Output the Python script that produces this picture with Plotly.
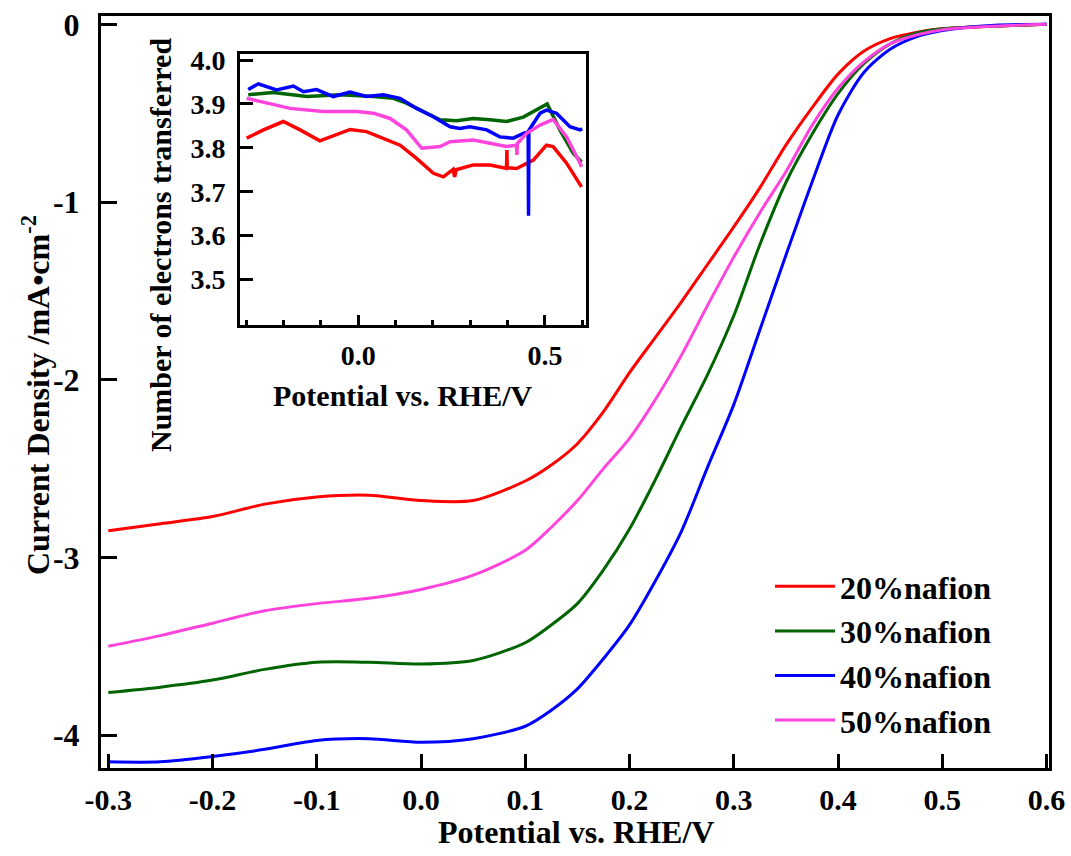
import plotly.graph_objects as go

# ---------------- main LSV data ----------------
potential_main = [-0.30, -0.25, -0.20, -0.15, -0.10, -0.05, 0.00, 0.05, 0.10, 0.125, 0.15, 0.175, 0.20,
                  0.225, 0.25, 0.275, 0.30, 0.325, 0.35, 0.375, 0.40, 0.425, 0.45, 0.475, 0.50, 0.55, 0.60]
j_20 = [-2.85, -2.81, -2.77, -2.70, -2.66, -2.65, -2.68, -2.68, -2.57, -2.48, -2.36, -2.18, -1.96,
        -1.76, -1.56, -1.35, -1.14, -0.92, -0.68, -0.47, -0.28, -0.15, -0.08, -0.045, -0.025, -0.01, 0.0]
j_30 = [-3.76, -3.73, -3.69, -3.63, -3.59, -3.59, -3.60, -3.58, -3.48, -3.38, -3.26, -3.07, -2.84,
        -2.56, -2.26, -1.97, -1.64, -1.24, -0.89, -0.62, -0.39, -0.22, -0.11, -0.05, -0.025, -0.01, 0.0]
j_40 = [-4.15, -4.15, -4.12, -4.08, -4.03, -4.02, -4.04, -4.02, -3.95, -3.86, -3.74, -3.57, -3.38,
        -3.13, -2.85, -2.49, -2.14, -1.72, -1.30, -0.89, -0.51, -0.27, -0.14, -0.07, -0.035, -0.005, 0.0]
j_50 = [-3.50, -3.44, -3.37, -3.30, -3.26, -3.23, -3.18, -3.10, -2.96, -2.83, -2.68, -2.50, -2.33,
        -2.11, -1.86, -1.58, -1.31, -1.06, -0.83, -0.57, -0.36, -0.21, -0.11, -0.06, -0.03, -0.01, 0.0]

# ---------------- inset: electron transfer number ----------------
x_n20 = [-0.299, -0.254, -0.201, -0.156, -0.103, -0.067, -0.022, 0.022, 0.067, 0.112, 0.156, 0.201, 0.228,
         0.254, 0.258, 0.262, 0.308, 0.353, 0.397, 0.398, 0.399, 0.424, 0.469, 0.504, 0.522, 0.558, 0.576, 0.598]
n_20 = [3.822, 3.841, 3.860, 3.841, 3.816, 3.827, 3.842, 3.837, 3.822, 3.806, 3.776, 3.742, 3.734,
        3.751, 3.734, 3.750, 3.761, 3.761, 3.753, 3.795, 3.755, 3.753, 3.772, 3.806, 3.803, 3.765, 3.742, 3.711]
x_n30 = [-0.295, -0.228, -0.138, -0.049, 0.040, 0.094, 0.129, 0.174, 0.219, 0.263, 0.308, 0.353, 0.397,
         0.442, 0.487, 0.506, 0.540, 0.576, 0.598]
n_30 = [3.921, 3.926, 3.917, 3.921, 3.917, 3.913, 3.902, 3.883, 3.864, 3.862, 3.867, 3.864, 3.860,
        3.870, 3.890, 3.900, 3.841, 3.787, 3.768]
x_n40 = [-0.295, -0.268, -0.219, -0.174, -0.147, -0.112, -0.067, -0.022, 0.022, 0.067, 0.112, 0.156, 0.201,
         0.246, 0.272, 0.299, 0.344, 0.379, 0.415, 0.442, 0.455, 0.456, 0.457, 0.487, 0.504, 0.531, 0.567,
         0.594, 0.600]
n_40 = [3.933, 3.946, 3.932, 3.941, 3.928, 3.933, 3.917, 3.927, 3.917, 3.921, 3.913, 3.890, 3.871,
        3.848, 3.844, 3.848, 3.841, 3.825, 3.822, 3.833, 3.836, 3.645, 3.840, 3.879, 3.886, 3.879, 3.848,
        3.841, 3.843]
x_n50 = [-0.299, -0.228, -0.183, -0.094, -0.004, 0.040, 0.085, 0.129, 0.170, 0.219, 0.246, 0.308, 0.353,
         0.397, 0.424, 0.425, 0.426, 0.451, 0.487, 0.522, 0.558, 0.594, 0.598]
n_50 = [3.913, 3.898, 3.890, 3.883, 3.883, 3.879, 3.867, 3.841, 3.799, 3.803, 3.814, 3.818, 3.810,
        3.803, 3.806, 3.784, 3.810, 3.833, 3.852, 3.865, 3.825, 3.765, 3.757]

names = ["20%nafion", "30%nafion", "40%nafion", "50%nafion"]
colors = ["#FF0000", "#006400", "#0000FF", "#FF44DD"]

main_x_ticks = [-0.3, -0.2, -0.1, 0.0, 0.1, 0.2, 0.3, 0.4, 0.5, 0.6]
main_x_text = ["-0.3", "-0.2", "-0.1", "0.0", "0.1", "0.2", "0.3", "0.4", "0.5", "0.6"]
main_y_ticks = [0, -1, -2, -3, -4]
main_y_text = ["0", "-1", "-2", "-3", "-4"]
inset_x_ticks = [0.0, 0.5]
inset_x_text = ["0.0", "0.5"]
inset_x_minor = [-0.3, -0.2, -0.1, 0.1, 0.2, 0.3, 0.4, 0.6]
inset_y_ticks = [3.5, 3.6, 3.7, 3.8, 3.9, 4.0]
inset_y_text = ["3.5", "3.6", "3.7", "3.8", "3.9", "4.0"]

FONT = "Liberation Serif"
W, H = 1071, 856
ML, MR, MT, MB = 101, 22, 16, 88
PW, PH = W - ML - MR, H - MT - MB


def px_to_paper(px, py):
    """window pixel -> paper coordinates"""
    return (px - ML) / PW, (H - MB - py) / PH


fig = go.Figure()

for xs, ys, nm, c in zip([potential_main] * 4, [j_20, j_30, j_40, j_50], names, colors):
    fig.add_trace(go.Scatter(x=xs, y=ys, mode="lines", name=nm,
                             line=dict(color=c, width=3, shape="spline", smoothing=0.8),
                             xaxis="x", yaxis="y"))

for xs, ys, nm, c in zip([x_n20, x_n30, x_n40, x_n50], [n_20, n_30, n_40, n_50], names, colors):
    fig.add_trace(go.Scatter(x=xs, y=ys, mode="lines", name=nm, showlegend=False,
                             line=dict(color=c, width=3.5),
                             xaxis="x2", yaxis="y2"))

ix0, iy0 = px_to_paper(240, 325)
ix1, iy1 = px_to_paper(586, 54)

axis_common = dict(showgrid=False, zeroline=False, showline=True, linecolor="black",
                   linewidth=3, mirror=True, ticks="inside", tickcolor="black", tickwidth=3,
                   ticklabeloverflow="allow")

fig.update_layout(
    width=W, height=H,
    margin=dict(l=ML, r=MR, t=MT, b=MB, autoexpand=False),
    paper_bgcolor="white", plot_bgcolor="white",
    font=dict(family=FONT, size=32, color="black", weight="bold"),
    xaxis=dict(domain=[0, 1], range=[-0.307, 0.6024], tickmode="array",
               tickvals=main_x_ticks, ticktext=main_x_text, ticklen=14,
               tickfont=dict(size=30), ticklabelstandoff=3,
               **axis_common),
    yaxis=dict(domain=[0, 1], range=[-4.185, 0.047], tickmode="array",
               tickvals=main_y_ticks, ticktext=main_y_text, ticklen=16,
               tickfont=dict(size=32), ticklabelstandoff=12,
               **axis_common),
    xaxis2=dict(domain=[ix0, ix1], anchor="y2", range=[-0.317, 0.610], tickmode="array",
                tickvals=inset_x_ticks, ticktext=inset_x_text, ticklen=10,
                tickfont=dict(size=28), ticklabelstandoff=3,
                minor=dict(tickmode="array", tickvals=inset_x_minor, ticks="inside",
                           ticklen=5, tickwidth=3, tickcolor="black", showgrid=False),
                **axis_common),
    yaxis2=dict(domain=[iy0, iy1], anchor="x2", range=[3.396, 4.014], tickmode="array",
                tickvals=inset_y_ticks, ticktext=inset_y_text, ticklen=13,
                tickfont=dict(size=28), ticklabelstandoff=6,
                **axis_common),
    legend=dict(x=px_to_paper(770, 0)[0], y=px_to_paper(0, 559)[1], xanchor="left", yanchor="top",
                bgcolor="rgba(0,0,0,0)", borderwidth=0, font=dict(size=32),
                itemwidth=60, tracegroupgap=0),
    showlegend=True,
)

# main axis titles
tx, ty = px_to_paper(576, 832)
fig.add_annotation(text="Potential vs. RHE/V", x=tx, y=ty, xref="paper", yref="paper",
                   showarrow=False, font=dict(size=32), xanchor="center", yanchor="middle")
ux, uy = px_to_paper(36, 395)
fig.add_annotation(text="Current Density /mA•cm<sup>-2</sup>", x=ux, y=uy, xref="paper", yref="paper",
                   showarrow=False, font=dict(size=32), textangle=-90,
                   xanchor="center", yanchor="middle")

# inset axis titles
ax, ay = px_to_paper(402, 396)
fig.add_annotation(text="Potential vs. RHE/V", x=ax, y=ay, xref="paper", yref="paper",
                   showarrow=False, font=dict(size=30), xanchor="center", yanchor="middle")
bx, by = px_to_paper(160, 245)
fig.add_annotation(text="Number of electrons transferred", x=bx, y=by, xref="paper", yref="paper",
                   showarrow=False, font=dict(size=30), textangle=-90,
                   xanchor="center", yanchor="middle")

# remove the default page margin so the figure fills the 1071x856 window exactly
fig.write_html("out.html", config={"displayModeBar": False},
               post_script="document.body.style.margin='0';document.body.style.overflow='hidden';")
